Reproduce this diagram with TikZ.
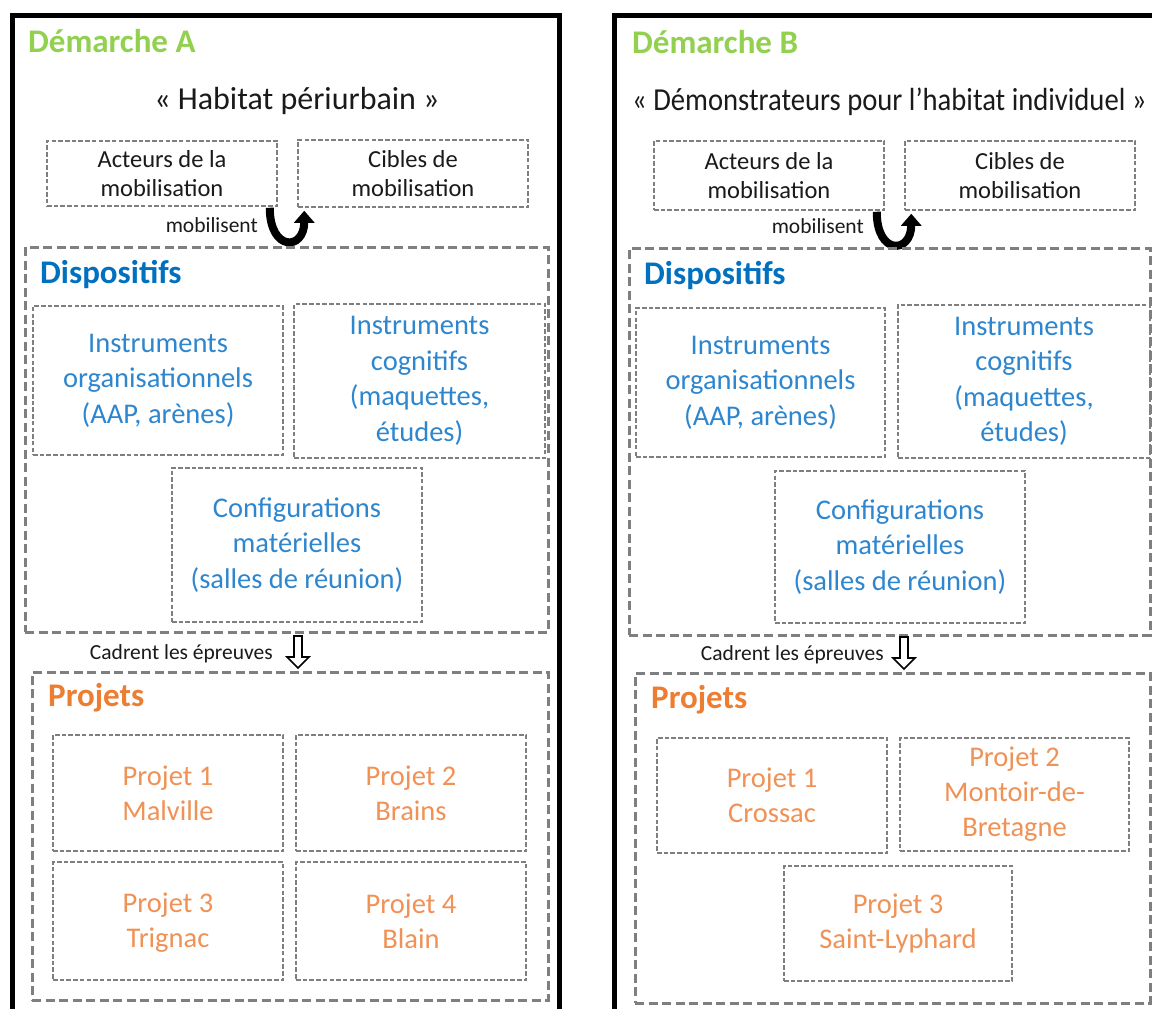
\documentclass[tikz,border=0pt]{standalone}
\usepackage{fontspec}
\setmainfont{Carlito}
\usetikzlibrary{calc,arrows.meta}
\definecolor{dgreen}{HTML}{92D050}
\definecolor{hblue}{HTML}{0070C0}
\definecolor{tblue}{RGB}{46,134,206}
\definecolor{horange}{HTML}{ED7D31}
\definecolor{torange}{RGB}{240,145,85}
\definecolor{gframe}{HTML}{7F7F7F}
\definecolor{tblack}{HTML}{1A1A1A}
\begin{document}
\begin{tikzpicture}[x=1pt,y=-1pt,
  smallbox/.style={draw=gframe, line width=1.5pt, dash pattern=on 4.5pt off 2.2pt, inner sep=0pt, align=center},
  bigbox/.style={draw=gframe, line width=3pt, dash pattern=on 9pt off 4.5pt, inner sep=0pt},
  frame/.style={draw=black, line width=5pt},
  demtitle/.style={anchor=base west, text=dgreen, font=\fontsize{33}{40}\selectfont\bfseries},
  maintitle/.style={text=tblack, font=\fontsize{32}{38}\selectfont, inner sep=0pt},
  mobtext/.style={text=tblack, font=\fontsize{24.5}{29.5}\selectfont},
  disphead/.style={anchor=base west, text=hblue, font=\fontsize{33}{38}\selectfont\bfseries, inner sep=0pt},
  projhead/.style={anchor=base west, text=horange, font=\fontsize{33}{38}\selectfont\bfseries, inner sep=0pt},
  disptext/.style={text=tblue, font=\fontsize{28.5}{35.5}\selectfont},
  projtext/.style={text=torange, font=\fontsize{28.5}{35}\selectfont},
  smalllabel/.style={anchor=base east, text=tblack, font=\fontsize{21.5}{26}\selectfont, inner sep=0pt},
  uarrow/.style={draw=black, line width=8pt, -{Triangle[length=12pt,width=20pt]}},
  hollow/.style={draw=black, line width=1.6pt, fill=white, line join=miter}
]
\useasboundingbox (0,0) rectangle (1152,1009);
\clip (0,0) rectangle (1152,1009);
\fill[white] (0,0) rectangle (1152,1009);

% ================= Demarche A =================
\draw[frame] (12,15.5) rectangle (559.5,1040);
\node[demtitle, inner sep=0pt] (a_title) at (28,52) {Démarche A};
\node[maintitle, anchor=base] (a_main) at (297,109) {« Habitat périurbain »};

\node[smallbox, mobtext, minimum width=230pt, minimum height=65pt] (a_act) at (162,173.5) {Acteurs de la\\mobilisation};
\node[smallbox, mobtext, minimum width=230pt, minimum height=67pt] (a_cib) at (413,173.5) {Cibles de\\mobilisation};
\node[smalllabel] (a_mob) at (258,232) {mobilisent};
\draw[uarrow] ($(a_act.south east)+(-8,1)$) .. controls +(0,44) and +(0,40) .. ($(a_cib.south west)+(7,3)$);

\node[bigbox, minimum width=523pt, minimum height=385pt] (a_disp) at (286.5,439.5) {};
\node[disphead] (a_disph) at (40,283) {Dispositifs};
\node[smallbox, disptext, minimum width=250pt, minimum height=149pt] (a_org) at (158,380.5) {Instruments\\organisationnels\\(AAP, arènes)};
\node[smallbox, disptext, minimum width=251pt, minimum height=154pt] (a_cog) at (419.5,381) {Instruments\\cognitifs\\(maquettes,\\études)};
\node[smallbox, disptext, minimum width=250pt, minimum height=154pt] (a_conf) at (297,545) {Configurations\\matérielles\\(salles de réunion)};

\node[smalllabel] (a_cad) at (273,659) {Cadrent les épreuves};
\node[bigbox, minimum width=516pt, minimum height=328pt] (a_proj) at (290,836) {};
\coordinate (a_arr) at (298,636);
\draw[hollow] ($(a_arr)+(-4,0)$) -- ++(0,21) -- ++(-7,0) -- ($(a_arr)+(0,32)$) -- ($(a_arr)+(11,21)$) -- ++(-7,0) -- ($(a_arr)+(4,0)$) -- cycle;
\node[projhead] (a_projh) at (48,706) {Projets};
\node[smallbox, projtext, minimum width=230pt, minimum height=116pt] (a_p1) at (168,793) {Projet 1\\Malville};
\node[smallbox, projtext, minimum width=230pt, minimum height=116pt] (a_p2) at (411,793) {Projet 2\\Brains};
\node[smallbox, projtext, minimum width=230pt, minimum height=118pt, text depth=2pt] (a_p3) at (168,921) {Projet 3\\Trignac};
\node[smallbox, projtext, minimum width=230pt, minimum height=118pt] (a_p4) at (411,921) {Projet 4\\Blain};

% ================= Demarche B =================
\draw[frame] (614,15.5) rectangle (1180,1040);
\node[demtitle, inner sep=0pt] (b_title) at (632,53) {Démarche B};
\node[maintitle, anchor=base west] (b_main) at (632,110) {\scalebox{0.895}[1]{« Démonstrateurs pour l’habitat individuel »}};

\node[smallbox, mobtext, minimum width=230pt, minimum height=69pt] (b_act) at (769,175.5) {Acteurs de la\\mobilisation};
\node[smallbox, mobtext, minimum width=230pt, minimum height=69pt] (b_cib) at (1020,175.5) {Cibles de\\mobilisation};
\node[smalllabel] (b_mob) at (864,233) {mobilisent};
\draw[uarrow] ($(b_act.south east)+(-8,1)$) .. controls +(0,44) and +(0,40) .. ($(b_cib.south west)+(7,3)$);

\node[bigbox, minimum width=521pt, minimum height=387pt] (b_disp) at (889.5,441.5) {};
\node[disphead] (b_disph) at (644,284) {Dispositifs};
\node[smallbox, disptext, minimum width=249pt, minimum height=149pt] (b_org) at (760.5,382.5) {Instruments\\organisationnels\\(AAP, arènes)};
\node[smallbox, disptext, minimum width=252pt, minimum height=153pt] (b_cog) at (1024,381.5) {Instruments\\cognitifs\\(maquettes,\\études)};
\node[smallbox, disptext, minimum width=250pt, minimum height=152pt] (b_conf) at (900,547) {Configurations\\matérielles\\(salles de réunion)};

\node[smalllabel] (b_cad) at (884,660) {Cadrent les épreuves};
\node[bigbox, minimum width=515pt, minimum height=330pt] (b_proj) at (892.5,838) {};
\coordinate (b_arr) at (904,637);
\draw[hollow] ($(b_arr)+(-4,0)$) -- ++(0,21) -- ++(-7,0) -- ($(b_arr)+(0,32)$) -- ($(b_arr)+(11,21)$) -- ++(-7,0) -- ($(b_arr)+(4,0)$) -- cycle;
\node[projhead] (b_projh) at (651,708) {Projets};
\node[smallbox, projtext, minimum width=230pt, minimum height=115pt] (b_p1) at (772,795.5) {Projet 1\\Crossac};
\node[smallbox, projtext, minimum width=229pt, minimum height=113pt] (b_p2) at (1014.5,794.5) {Projet 2\\Montoir-de-\\Bretagne};
\node[smallbox, projtext, minimum width=228pt, minimum height=115pt] (b_p3) at (898,923.5) {Projet 3\\Saint-Lyphard};
\end{tikzpicture}
\end{document}
